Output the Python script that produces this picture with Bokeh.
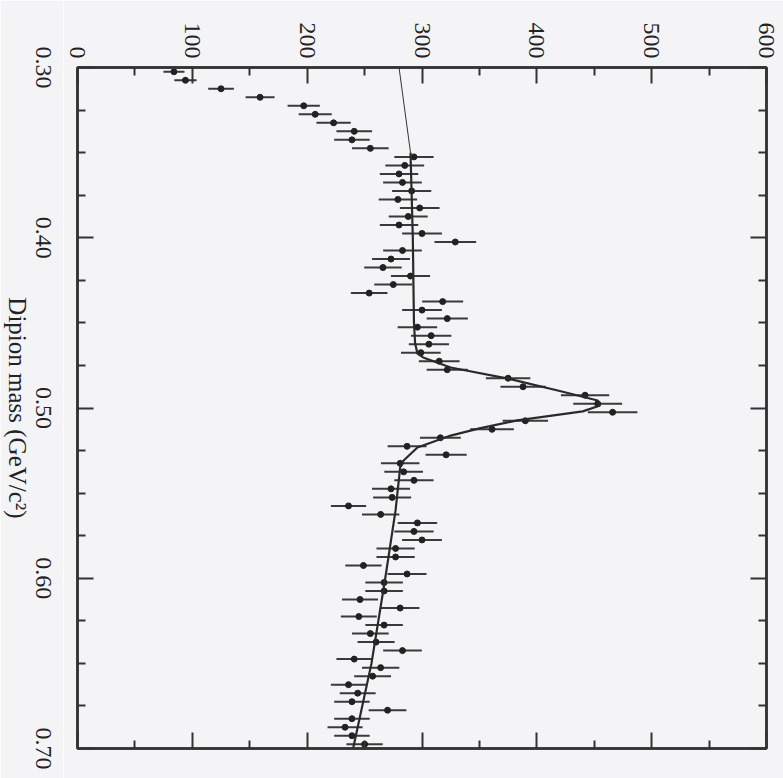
import math
import numpy as np
from bokeh.plotting import figure
from bokeh.layouts import row
from bokeh.models import (Range1d, LinearAxis, FixedTicker, ColumnDataSource,
                          CustomLabelingPolicy)
from bokeh.embed import file_html
from bokeh.resources import INLINE

# Dipion mass bin centres (GeV/c^2), 80 bins of 0.005 from 0.30 to 0.70
mass_lo = 0.30
bin_width = 0.005
counts = [
    84, 94, 125, 159, 197, 207, 223, 241, 239, 255,
    293, 285, 280, 283, 291, 279, 298, 288, 280, 300,
    329, 283, 273, 266, 290, 275, 254, 318, 300, 322,
    296, 308, 306, 299, 315, 322, 375, 388, 442, 453,
    466, 390, 361, 316, 287, 321, 281, 284, 293, 273,
    274, 236, 264, 296, 293, 300, 277, 277, 249, 287,
    267, 267, 246, 281, 245, 267, 255, 260, 283, 241,
    264, 257, 236, 244, 239, 270, 239, 233, 239, 250,
]
mass = [round(mass_lo + bin_width * (i + 0.5), 4) for i in range(len(counts))]

# fit curve
fit_thin_mass = [0.30, 0.35]
fit_thin_count = [280, 290]
fit_mass = [0.35, 0.40, 0.45, 0.462, 0.468, 0.4703, 0.4762, 0.4827, 0.490, 0.4956,
            0.4985, 0.5020, 0.5073, 0.5120, 0.5162, 0.5232, 0.5308, 0.5349, 0.56,
            0.60, 0.65, 0.70]
fit_count = [290, 292, 293, 294, 296, 301, 325, 375, 420, 453,
             455, 440, 383, 350, 325, 296, 284, 281, 277,
             268, 256, 240]

count_ticks = [0, 100, 200, 300, 400, 500, 600]
count_minor = [50, 150, 250, 350, 450, 550]
mass_ticks = [0.30, 0.40, 0.50, 0.60, 0.70]
mass_tick_labels = ["0.30", "0.40", "0.50", "0.60", "0.70"]
mass_minor = [0.325, 0.35, 0.375, 0.425, 0.45, 0.475, 0.525, 0.55, 0.575, 0.625, 0.65, 0.675]
x_title = "Dipion mass (GeV/c²)"

err = np.sqrt(np.array(counts, dtype=float))
src = ColumnDataSource(dict(
    mass=mass, count=counts,
    lo=list(np.array(counts) - err), hi=list(np.array(counts) + err),
))

FONT = "'Liberation Serif', serif"
INK = "#222222"
BG = "#f4f4f7"
ROT = -math.pi / 2

W, H = 783, 778
LW = 63                     # width of the strip holding the rotated mass labels
B_TOP, B_BOTTOM = 67, 30

y_rng = Range1d(0.70, 0.30)

p = figure(width=W - LW, height=H, output_backend="svg", toolbar_location=None,
           x_range=Range1d(0, 600), y_range=y_rng,
           x_axis_location=None, y_axis_location=None,
           min_border_left=77 - LW, min_border_top=B_TOP,
           min_border_right=17, min_border_bottom=B_BOTTOM)
p.background_fill_color = BG
p.border_fill_color = BG
p.outline_line_color = "#333333"
p.outline_line_width = 2.5
p.xgrid.visible = False
p.ygrid.visible = False

def style_axis(ax, ticks, minor, show_labels, overrides=None):
    ax.ticker = FixedTicker(ticks=ticks, minor_ticks=minor)
    ax.major_tick_in = 16
    ax.major_tick_out = 0
    ax.minor_tick_in = 8
    ax.minor_tick_out = 0
    ax.major_tick_line_color = "#333333"
    ax.minor_tick_line_color = "#333333"
    ax.major_tick_line_width = 2
    ax.minor_tick_line_width = 2
    ax.axis_line_color = "#333333"
    ax.axis_line_width = 2.5
    ax.major_label_text_font = FONT
    ax.major_label_text_color = INK
    if show_labels:
        ax.major_label_text_font_size = "24px"
        ax.major_label_orientation = ROT
    else:
        ax.major_label_text_font_size = "0px"
        ax.major_label_policy = CustomLabelingPolicy(code="return new Set()")
        ax.major_label_standoff = 0
    if overrides:
        ax.major_label_overrides = overrides

# mass axis ticks (left) and mirror (right)
ax_left = LinearAxis()
style_axis(ax_left, mass_ticks, mass_minor, False)
p.add_layout(ax_left, "left")
ax_right = LinearAxis()
style_axis(ax_right, mass_ticks, mass_minor, False)
p.add_layout(ax_right, "right")

# count axis (top) and mirror (bottom)
ax_top = LinearAxis()
style_axis(ax_top, count_ticks, count_minor, True,
           {t: str(t) for t in count_ticks})
ax_top.major_label_standoff = 9
p.add_layout(ax_top, "above")
ax_bot = LinearAxis()
style_axis(ax_bot, count_ticks, count_minor, False)
p.add_layout(ax_bot, "below")

# data
p.segment(x0="lo", x1="hi", y0="mass", y1="mass", source=src,
          line_color="#3a3a3a", line_width=2)
p.scatter(x="count", y="mass", source=src, size=6, color=INK)

# fit
p.line(fit_thin_count, fit_thin_mass, line_color="#333333", line_width=1)
p.line(fit_count, fit_mass, line_color="#2a2a2a", line_width=2.2)

# strip on the left carrying the clockwise-rotated mass labels and title
left = figure(width=LW, height=H, output_backend="svg", toolbar_location=None,
              x_range=Range1d(0, 1), y_range=y_rng,
              x_axis_location=None, y_axis_location=None,
              min_border_left=0, min_border_right=LW,
              min_border_top=B_TOP, min_border_bottom=B_BOTTOM)
left.background_fill_color = BG
left.border_fill_color = BG
left.outline_line_color = None
left.xgrid.visible = False
left.ygrid.visible = False

ax_title = LinearAxis(ticker=FixedTicker(ticks=[]))
ax_title.axis_line_color = None
ax_title.major_tick_line_color = None
ax_title.minor_tick_line_color = None
ax_title.major_tick_out = 0
ax_title.minor_tick_out = 0
ax_title.major_label_text_font_size = "0px"
ax_title.major_label_policy = CustomLabelingPolicy(code="return new Set()")
ax_title.axis_label = x_title
ax_title.axis_label_standoff = 3
ax_title.axis_label_text_font = FONT
ax_title.axis_label_text_font_style = "normal"
ax_title.axis_label_text_font_size = "25px"
ax_title.axis_label_text_color = INK
left.add_layout(ax_title, "right")

ax_lab = LinearAxis(ticker=FixedTicker(ticks=mass_ticks, minor_ticks=[]))
ax_lab.axis_line_color = None
ax_lab.major_tick_line_color = None
ax_lab.minor_tick_line_color = None
ax_lab.major_tick_out = 0
ax_lab.minor_tick_out = 0
ax_lab.major_label_orientation = "parallel"
ax_lab.major_label_overrides = {t: l for t, l in zip(mass_ticks, mass_tick_labels)}
ax_lab.major_label_standoff = 2
ax_lab.major_label_text_font = FONT
ax_lab.major_label_text_font_size = "24px"
ax_lab.major_label_text_color = INK
left.add_layout(ax_lab, "right")

layout = row(left, p)
open("out.html", "w").write(file_html(layout, INLINE))
